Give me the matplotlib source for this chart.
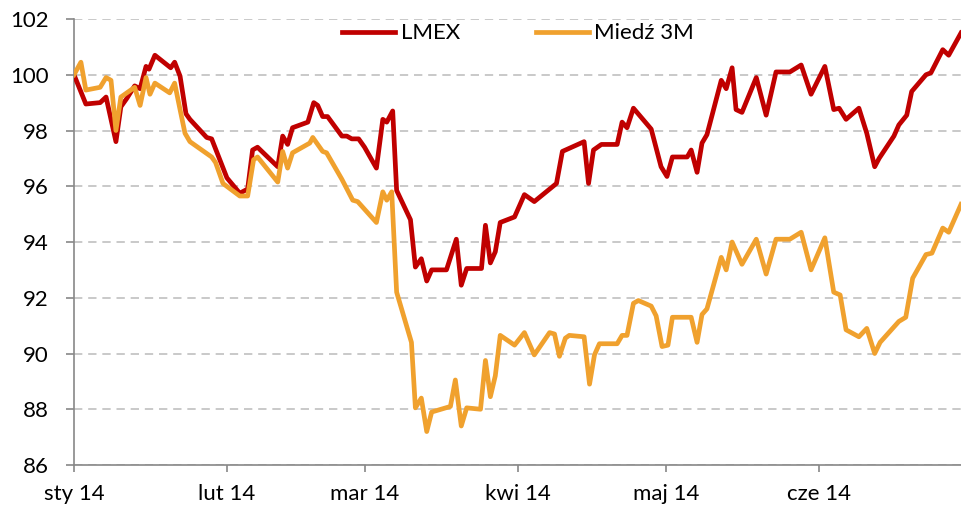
import matplotlib
matplotlib.use("Agg")
import matplotlib.pyplot as plt
import pandas as pd

# ---- data (day offsets from 2014-01-01, index values) ----
start = "2014-01-01"

lmex_days = [0, 2.4, 5.3, 6.5, 8.5, 9.5, 10.7, 12.3, 13.4, 14.6, 15.2, 16.4, 19.6, 20.4, 21.5,
             22.7, 23.5, 26.9, 27.9, 31.0, 33.6, 35.2, 36.2, 37.2, 41.3, 42.3, 43.3, 44.3,
             47.4, 48.6, 49.4, 50.4, 51.4, 54.3, 55.3, 56.3, 57.7, 58.9, 61.3, 62.6, 63.4,
             64.6, 65.4, 68.2, 69.2, 70.4, 71.5, 72.5, 75.5, 77.5, 78.5, 79.6, 82.6, 83.4,
             84.4, 85.4, 86.4, 89.3, 91.3, 93.3, 97.8, 99.0, 103.4, 104.3, 105.3, 106.9,
             110.1, 111.1, 112.1, 113.4, 117.0, 119.0, 120.2, 121.3, 124.3, 125.1, 126.3,
             127.3, 128.3, 131.2, 132.2, 133.4, 134.2, 135.4, 138.3, 140.3, 142.3, 145.1,
             147.4, 149.4, 152.2, 154.0, 155.1, 156.5, 159.1, 160.7, 162.3, 163.2, 166.2,
             167.2, 168.8, 169.8, 172.7, 173.7, 176.1, 177.3, 179.8]
lmex_vals = [100.0, 98.95, 99.0, 99.2, 97.6, 98.85, 99.15, 99.6, 99.5, 100.3, 100.2, 100.7, 100.25,
             100.45, 99.95, 98.6, 98.4, 97.75, 97.7, 96.3, 95.75, 95.9, 97.3, 97.4, 96.7, 97.8,
             97.5, 98.1, 98.3, 99.0, 98.9, 98.5, 98.5, 97.8, 97.8, 97.7, 97.7, 97.4, 96.65,
             98.4, 98.3, 98.7, 95.85, 94.8, 93.1, 93.4, 92.6, 93.0, 93.0, 94.1, 92.45, 93.05,
             93.05, 94.6, 93.25, 93.65, 94.7, 94.9, 95.7, 95.45, 96.1, 97.25, 97.6, 96.1, 97.3,
             97.5, 97.5, 98.3, 98.1, 98.8, 98.05, 96.7, 96.35, 97.05, 97.05, 97.3, 96.5, 97.55,
             97.85, 99.8, 99.5, 100.25, 98.75, 98.65, 99.9, 98.55, 100.1, 100.1, 100.35, 99.3,
             100.3, 98.75, 98.8, 98.4, 98.8, 97.9, 96.7, 97.0, 97.8, 98.2, 98.55, 99.4, 100.0,
             100.07, 100.9, 100.7, 101.5]

cu_days = [0, 1.4, 2.4, 5.3, 6.5, 7.5, 8.5, 9.5, 12.3, 13.4, 14.6, 15.4, 16.4, 19.4, 20.4, 21.5,
           22.5, 23.5, 27.9, 28.7, 30.2, 33.6, 35.2, 36.4, 37.2, 41.3, 42.3, 43.3, 44.3, 47.8,
           48.4, 50.4, 51.2, 54.3, 56.5, 57.5, 61.3, 62.6, 63.4, 64.4, 65.4, 68.4, 69.2, 70.4,
           71.5, 72.5, 76.3, 77.3, 78.5, 79.6, 82.4, 83.4, 84.4, 85.4, 86.4, 89.3, 91.3, 93.3,
           96.4, 97.4, 98.4, 99.6, 100.4, 103.4, 104.5, 105.5, 106.5, 110.1, 111.1, 112.1,
           113.4, 114.4, 117.0, 118.0, 119.2, 120.4, 121.3, 125.1, 126.3, 127.3, 128.3, 131.2,
           132.2, 133.4, 135.4, 138.3, 140.3, 142.3, 145.1, 147.4, 149.4, 152.2, 154.0, 155.3,
           156.5, 159.1, 160.7, 162.3, 163.4, 167.2, 168.6, 170.0, 172.7, 173.9, 176.1, 177.3,
           179.8]
cu_vals = [100.0, 100.45, 99.45, 99.55, 99.9, 99.8, 98.0, 99.2, 99.55, 98.9, 99.9, 99.3, 99.7,
           99.35, 99.7, 98.75, 97.9, 97.6, 97.05, 96.85, 96.1, 95.65, 95.65, 96.95, 97.05, 96.15,
           97.25, 96.65, 97.2, 97.55, 97.75, 97.25, 97.2, 96.25, 95.5, 95.45, 94.7, 95.8, 95.5,
           95.8, 92.2, 90.4, 88.05, 88.4, 87.2, 87.9, 88.1, 89.05, 87.4, 88.05, 88.0, 89.75,
           88.45, 89.2, 90.65, 90.3, 90.75, 89.95, 90.75, 90.7, 89.9, 90.55, 90.65, 90.6, 88.9,
           89.95, 90.35, 90.35, 90.65, 90.65, 91.8, 91.9, 91.7, 91.35, 90.25, 90.3, 91.3, 91.3,
           90.4, 91.4, 91.6, 93.45, 93.0, 94.0, 93.2, 94.1, 92.85, 94.1, 94.1, 94.35, 93.0,
           94.15, 92.2, 92.1, 90.85, 90.6, 90.9, 90.0, 90.4, 91.15, 91.3, 92.7, 93.55, 93.6,
           94.5, 94.35, 95.35]

series_names = ["LMEX", "Miedź 3M"]
month_labels = ["sty 14", "lut 14", "mar 14", "kwi 14", "maj 14", "cze 14"]
y_ticks = [86, 88, 90, 92, 94, 96, 98, 100, 102]

# ---- plotting ----
plt.rcParams["font.family"] = ["Lato", "DejaVu Sans"]

t0 = pd.Timestamp(start)
lmex_x = [t0 + pd.Timedelta(days=d) for d in lmex_days]
cu_x = [t0 + pd.Timedelta(days=d) for d in cu_days]

fig = plt.figure(figsize=(9.62, 5.11), dpi=100)
ax = fig.add_axes([74 / 962, 1 - 465 / 511, (962 - 74) / 962, (465 - 19) / 511])

red = "#C00000"
orange = "#F0A12E"
ax.plot(lmex_x, lmex_vals, color=red, lw=3.4, solid_joinstyle="round", label=series_names[0], zorder=3)
ax.plot(cu_x, cu_vals, color=orange, lw=3.4, solid_joinstyle="round", label=series_names[1], zorder=4)

ax.set_ylim(86, 102)
ax.set_yticks(y_ticks)
ax.set_xlim(t0, pd.Timestamp("2014-06-30"))
month_ticks = pd.date_range(start, periods=6, freq="MS")
ax.set_xticks(month_ticks)
ax.set_xticklabels(month_labels)

ax.grid(axis="y", color="#C0C0C0", linestyle=(0, (5, 3.5)), linewidth=1.2)
ax.set_axisbelow(True)
for s in ["top", "right"]:
    ax.spines[s].set_visible(False)
for s in ["left", "bottom"]:
    ax.spines[s].set_color("#888888")
    ax.spines[s].set_linewidth(1.2)
ax.tick_params(axis="y", direction="out", length=6, width=1.2, color="#888888",
               labelsize=16, pad=12, labelcolor="#000000")
ax.tick_params(axis="x", direction="out", length=5, width=1.2, color="#888888",
               labelsize=16, pad=9, labelcolor="#000000")

leg = ax.legend(loc="upper center", bbox_to_anchor=(0.5, 1.015), ncol=2, frameon=False,
                fontsize=16, handlelength=2.4, handletextpad=0.25, columnspacing=3.4,
                borderaxespad=0.1)

fig.savefig("out.png", dpi=100)
